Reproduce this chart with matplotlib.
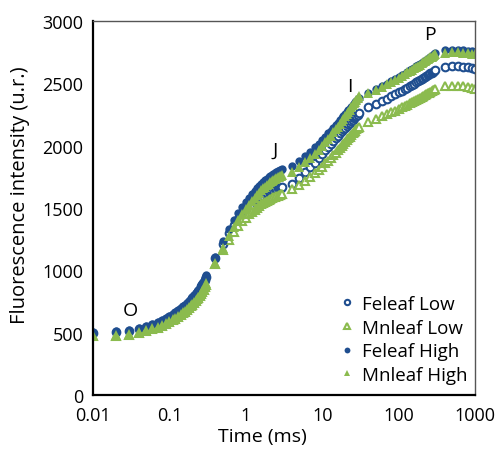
import numpy as np
import matplotlib
matplotlib.use("Agg")
import matplotlib.pyplot as plt

#=========================================================================================
plt.rcParams['font.family'] = ['Open Sans', 'DejaVu Sans']

#=========================================================================================
# time (ms), logged in five blocks
time_1 = [0.01, 0.02, 0.03, 0.04, 0.05, 0.06, 0.07, 0.08, 0.09, 0.10,
          0.11, 0.12, 0.13, 0.14, 0.15, 0.16, 0.17, 0.18, 0.19, 0.20,
          0.21, 0.22, 0.23, 0.24, 0.25, 0.26, 0.27, 0.28, 0.29, 0.30]
time_2 = [0.4, 0.5, 0.6, 0.7, 0.8, 0.9, 1.0, 1.1, 1.2, 1.3, 1.4, 1.5, 1.6, 1.7,
          1.8, 1.9, 2.0, 2.1, 2.2, 2.3, 2.4, 2.5, 2.6, 2.7, 2.8, 2.9, 3.0]
time_3 = [4, 5, 6, 7, 8, 9, 10, 11, 12, 13, 14, 15, 16, 17,
          18, 19, 20, 21, 22, 23, 24, 25, 26, 27, 28, 29, 30]
time_4 = [40, 50, 60, 70, 80, 90, 100, 110, 120, 130, 140, 150, 160, 170,
          180, 190, 200, 210, 220, 230, 240, 250, 260, 270, 280, 290, 300]
time_5 = [400, 500, 600, 700, 800, 900, 1000]

# fluorescence intensity (u.r.)
fe_low = [500, 503, 513, 528, 547, 562, 577, 592, 607, 627, 642, 657, 672, 687, 702,
          717, 732, 747, 762, 777, 792, 807, 822, 837, 852, 871, 886, 906, 926, 950,
          1100, 1215, 1300, 1360, 1410, 1450, 1480, 1505, 1527, 1546, 1562, 1576, 1589, 1600,
          1610, 1619, 1627, 1634, 1640, 1645, 1650, 1654, 1657, 1660, 1662, 1664, 1666,
          1690, 1740, 1785, 1826, 1864, 1899, 1932, 1963, 1991, 2016, 2039, 2060, 2080, 2098,
          2115, 2131, 2145, 2159, 2172, 2185, 2197, 2208, 2219, 2230, 2240, 2250, 2260,
          2310, 2336, 2359, 2378, 2396, 2412, 2427, 2441, 2453, 2466, 2477, 2488, 2498, 2508,
          2517, 2526, 2535, 2542, 2551, 2558, 2566, 2573, 2580, 2586, 2593, 2599, 2605,
          2635, 2640, 2638, 2635, 2630, 2625, 2615]
mn_low = [475, 477, 485, 500, 514, 528, 541, 555, 569, 585, 599, 613, 627, 641, 655,
          669, 683, 697, 711, 725, 739, 753, 767, 781, 795, 811, 827, 845, 864, 885,
          1050, 1160, 1245, 1305, 1355, 1393, 1423, 1448, 1469, 1487, 1503, 1517, 1529, 1540,
          1550, 1559, 1567, 1574, 1580, 1586, 1591, 1596, 1600, 1604, 1607, 1610, 1613,
          1650, 1685, 1718, 1749, 1778, 1806, 1832, 1857, 1880, 1902, 1923, 1943, 1962, 1980,
          1997, 2013, 2029, 2044, 2058, 2072, 2085, 2098, 2110, 2121, 2131, 2141, 2150,
          2190, 2214, 2234, 2251, 2267, 2282, 2295, 2308, 2319, 2330, 2340, 2350, 2359, 2367,
          2376, 2384, 2392, 2399, 2406, 2413, 2420, 2426, 2432, 2438, 2444, 2449, 2455,
          2475, 2482, 2480, 2476, 2472, 2466, 2458]
fe_high = [505, 510, 520, 535, 555, 570, 585, 600, 615, 635, 650, 665, 680, 695, 710,
           725, 740, 755, 770, 785, 800, 815, 830, 845, 860, 880, 895, 915, 935, 960,
           1110, 1235, 1330, 1400, 1460, 1505, 1545, 1580, 1610, 1635, 1658, 1678, 1695, 1710,
           1724, 1736, 1747, 1757, 1766, 1774, 1781, 1787, 1793, 1798, 1802, 1806, 1810,
           1840, 1880, 1918, 1953, 1986, 2017, 2046, 2073, 2098, 2121, 2143, 2164, 2184, 2203,
           2221, 2238, 2254, 2269, 2284, 2298, 2312, 2325, 2338, 2350, 2361, 2371, 2380,
           2425, 2453, 2477, 2498, 2517, 2534, 2550, 2565, 2578, 2592, 2603, 2615, 2626, 2636,
           2646, 2656, 2665, 2673, 2682, 2690, 2698, 2706, 2713, 2720, 2727, 2733, 2740,
           2765, 2770, 2768, 2765, 2762, 2758, 2752]
mn_high = [480, 482, 490, 505, 520, 535, 548, 562, 576, 592, 606, 620, 634, 648, 662,
           676, 690, 704, 718, 732, 746, 760, 774, 788, 802, 818, 834, 852, 872, 895,
           1060, 1180, 1275, 1345, 1405, 1450, 1490, 1525, 1555, 1580, 1603, 1623, 1641, 1657,
           1671, 1684, 1696, 1707, 1717, 1726, 1734, 1741, 1747, 1752, 1756, 1759, 1762,
           1790, 1828, 1866, 1902, 1936, 1968, 1998, 2027, 2055, 2081, 2106, 2130, 2153, 2175,
           2196, 2216, 2235, 2254, 2272, 2290, 2307, 2323, 2339, 2354, 2368, 2382, 2395,
           2420, 2448, 2472, 2493, 2512, 2529, 2545, 2560, 2573, 2587, 2598, 2610, 2621, 2631,
           2641, 2651, 2660, 2668, 2677, 2685, 2693, 2701, 2708, 2715, 2722, 2728, 2735,
           2745, 2750, 2748, 2745, 2742, 2738, 2732]

phase_labels = ['O', 'J', 'I', 'P']
phase_time = [0.0305, 2.41, 23.1, 258]
phase_value = [680, 1965, 2480, 2895]

#=========================================================================================
blue = '#1f4e8f'
green = '#8bbb4e'

time = np.array(time_1 + time_2 + time_3 + time_4 + time_5)

fig = plt.figure(figsize=(4.97, 4.52), dpi=100)
ax = fig.add_axes([93/497, 56/452, 382/497, 374/452])

ax.plot(time, fe_low, linestyle='none', marker='o', markersize=5.5, markerfacecolor='white',
        markeredgecolor=blue, markeredgewidth=1.5, label='Feleaf Low')
ax.plot(time, mn_low, linestyle='none', marker='^', markersize=6, markerfacecolor='white',
        markeredgecolor=green, markeredgewidth=1.5, label='Mnleaf Low')
ax.plot(time, fe_high, linestyle='none', marker='o', markersize=6, color=blue,
        markeredgewidth=0, label='Feleaf High')
ax.plot(time, mn_high, linestyle='none', marker='^', markersize=6.5, color=green,
        markeredgewidth=0, label='Mnleaf High')

for lab, t, v in zip(phase_labels, phase_time, phase_value):
    ax.text(t, v, lab, fontsize=14, ha='center', va='center')

ax.set_xscale('log')
ax.set_xlim(0.01, 1000)
ax.set_ylim(0, 3000)
ax.set_xticks([0.01, 0.1, 1, 10, 100, 1000])
ax.set_xticklabels(['0.01', '0.1', '1', '10', '100', '1000'])
ax.set_yticks([0, 500, 1000, 1500, 2000, 2500, 3000])
ax.minorticks_off()
ax.tick_params(axis='both', length=0, labelsize=13)
ax.tick_params(axis='y', pad=7)
ax.tick_params(axis='x', pad=8)

for side in ['left', 'bottom']:
    ax.spines[side].set_linewidth(1.6)
    ax.spines[side].set_color('black')
for side in ['top', 'right']:
    ax.spines[side].set_linewidth(1.0)
    ax.spines[side].set_color('#555555')

ax.set_xlabel('Time (ms)', fontsize=14)
ax.set_ylabel('Fluorescence intensity (u.r.)', fontsize=14.5)
ax.xaxis.set_label_coords((262 - 93) / 382, -0.085)
ax.yaxis.set_label_coords(-0.165, (396 - 195) / 374)

leg = ax.legend(loc='lower right', frameon=False, fontsize=13.5, markerscale=0.7,
                handlelength=0.6, handletextpad=0.5, labelspacing=0.3,
                borderaxespad=0.0, bbox_to_anchor=(1.0, 0.01))

fig.savefig('out.png', dpi=100)
